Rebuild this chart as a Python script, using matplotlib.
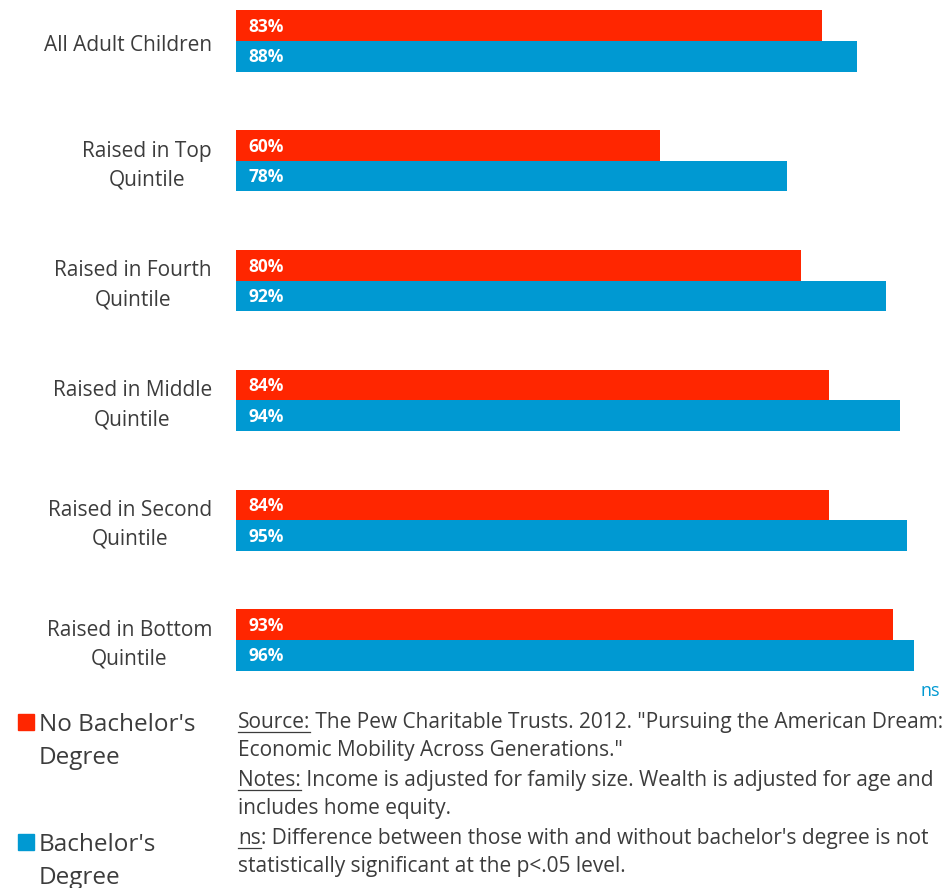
import matplotlib
matplotlib.use("Agg")
import matplotlib.pyplot as plt
import numpy as np
from matplotlib.lines import Line2D

plt.rcParams["font.family"] = ["Open Sans", "DejaVu Sans"]

categories = [
    "All Adult Children",
    "Raised in Top\nQuintile",
    "Raised in Fourth\nQuintile",
    "Raised in Middle\nQuintile",
    "Raised in Second\nQuintile",
    "Raised in Bottom\nQuintile",
]
no_ba = [83, 60, 80, 84, 84, 93]
ba = [88, 78, 92, 94, 95, 96]
series_names = ["No Bachelor's\nDegree", "Bachelor's\nDegree"]

RED = "#ff2600"
BLUE = "#0099d2"
TEXT = "#3c3c3c"

W, H = 949, 888
fig = plt.figure(figsize=(W / 100, H / 100), dpi=100)

# axes: 0% at x=236px, 100% at ~942px; top at 0px, bottom at 680px
ax = fig.add_axes([236 / W, 1 - 680 / H, (942 - 236) / W, 680 / H])
y = np.arange(len(categories))
bh = 0.255
ax.barh(y - bh / 2, no_ba, height=bh, color=RED)
ax.barh(y + bh / 2, ba, height=bh, color=BLUE)
ax.set_xlim(0, 100)
ax.set_ylim(5.334, -0.342)
ax.axis("off")

for i in range(len(categories)):
    ax.text(1.8, i - bh / 2 + 0.01, f"{no_ba[i]}%", color="white", fontweight="bold",
            fontsize=12.5, va="center", ha="left")
    ax.text(1.8, i + bh / 2 + 0.01, f"{ba[i]}%", color="white", fontweight="bold",
            fontsize=12.5, va="center", ha="left")
    ax.text(-3.4, i + 0.04, categories[i], color=TEXT, fontsize=15, ha="right",
            va="center", linespacing=1.5, multialignment="center")

fig.text(930 / W, 1 - 691 / H, "ns", color=BLUE, fontsize=13, ha="center", va="center")

# legend
for yy, col, name in [(722, RED, series_names[0]), (842, BLUE, series_names[1])]:
    fig.patches.append(plt.Rectangle((18 / W, 1 - (yy + 8) / H), 16 / W, 16 / H,
                                     transform=fig.transFigure, color=col))
    fig.text(39 / W, 1 - (yy - 9) / H, name, color=TEXT, fontsize=17.5,
             ha="left", va="top", linespacing=1.5)

# footnotes with underlined lead words
renderer = fig.canvas.get_renderer()
notes = [
    (722, "Source:", " The Pew Charitable Trusts. 2012. \"Pursuing the American Dream:"),
    (750, "", "Economic Mobility Across Generations.\""),
    (780, "Notes:", " Income is adjusted for family size. Wealth is adjusted for age and"),
    (808, "", "includes home equity."),
    (838, "ns", ": Difference between those with and without bachelor's degree is not"),
    (866, "", "statistically significant at the p<.05 level."),
]
x0 = 238 / W
for yy, lead, rest in notes:
    yf = 1 - yy / H
    xr = x0
    if lead:
        t = fig.text(x0, yf, lead, color=TEXT, fontsize=15, ha="left", va="center")
        bb = t.get_window_extent(renderer)
        xr = bb.x1 / W
        uy = (bb.y0 + 1) / H
        fig.add_artist(Line2D([bb.x0 / W, bb.x1 / W], [uy, uy], color=TEXT,
                              lw=0.9, transform=fig.transFigure))
    fig.text(xr, yf, rest, color=TEXT, fontsize=15, ha="left", va="center")

fig.savefig("out.png", dpi=100)
